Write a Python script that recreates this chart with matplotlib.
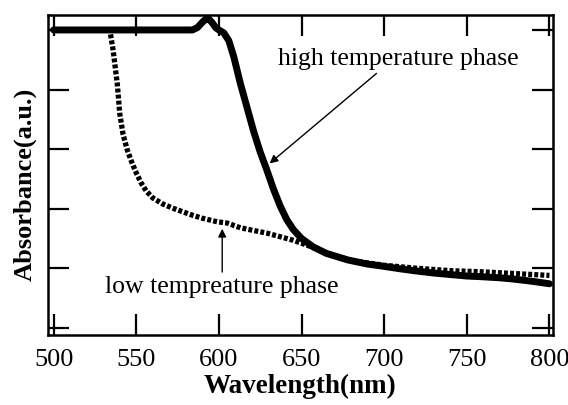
import matplotlib
matplotlib.use("Agg")
import matplotlib.pyplot as plt

# data
high_x = [500, 520, 540, 560, 580, 584, 587, 590, 592, 594, 596, 598, 600, 603, 606, 609,
          613, 617, 621, 625, 629, 633, 637, 641, 645, 650, 657, 665, 678, 690, 698, 710,
          718, 730, 738, 750, 758, 770, 778, 790, 800]
high_y = [5.0, 5.0, 5.0, 5.0, 5.0, 5.0, 5.04, 5.13, 5.18, 5.18, 5.12, 5.04, 5.0, 4.95, 4.82, 4.55,
          4.1, 3.7, 3.3, 2.95, 2.65, 2.33, 2.05, 1.82, 1.65, 1.5, 1.36, 1.25, 1.14, 1.07, 1.04, 0.99,
          0.96, 0.92, 0.90, 0.87, 0.86, 0.84, 0.82, 0.78, 0.74]
low_x = [500, 520, 534, 536, 538.5, 540, 542, 544.5, 547, 550, 553, 556, 560, 566, 572, 578,
         583, 590, 599, 605, 613, 620, 629, 637, 645, 655, 665, 680, 700, 720, 740, 760, 780, 800]
low_y = [5.0, 5.0, 5.0, 4.66, 4.1, 3.6, 3.25, 2.99, 2.8, 2.6, 2.43, 2.3, 2.18, 2.08, 2.01, 1.95,
         1.9, 1.84, 1.78, 1.76, 1.68, 1.64, 1.59, 1.53, 1.47, 1.37, 1.26, 1.13, 1.05, 1.0, 0.96, 0.94, 0.91, 0.88]
x_ticks = [500, 550, 600, 650, 700, 750, 800]
y_ticks = [0, 1, 2, 3, 4, 5]

plt.rcParams['font.family'] = ['Liberation Serif', 'DejaVu Serif']

fig = plt.figure(figsize=(5.68, 4.05), dpi=100)
ax = fig.add_axes([0.0845, 0.1728, 0.889, 0.790])

ax.plot(low_x, low_y, color='black', lw=3.8, dashes=(0.75, 0.4), solid_capstyle='butt')
ax.plot(high_x, high_y, color='black', lw=5.0, solid_capstyle='round', solid_joinstyle='round')

ax.set_xlim(496.6, 802.1)
ax.set_ylim(-0.12, 5.25)
ax.set_xticks(x_ticks)
ax.set_yticks(y_ticks)
ax.set_yticklabels([])
ax.tick_params(direction='in', length=15, width=1.6, top=True, right=True,
               labelsize=19, pad=10)
for s in ax.spines.values():
    s.set_linewidth(1.8)

ax.set_xlabel('Wavelength(nm)', fontsize=19.5, fontweight='bold', labelpad=2)
ax.set_ylabel('Absorbance(a.u.)', fontsize=19, fontweight='bold')
ax.yaxis.set_label_coords(-0.022, 0.47)

ax.annotate('', xy=(629.4, 2.73), xytext=(696.6, 4.30),
            arrowprops=dict(arrowstyle='-|>', color='black', lw=1.0, mutation_scale=12))
ax.text(708.6, 4.41, 'high temperature phase', fontsize=18.5, ha='center', va='baseline')

ax.annotate('', xy=(602, 1.71), xytext=(602, 0.89),
            arrowprops=dict(arrowstyle='-|>', color='black', lw=1.0, mutation_scale=12))
ax.text(601.5, 0.59, 'low tempreature phase', fontsize=18.5, ha='center', va='baseline')

fig.savefig('out.png', dpi=100)
